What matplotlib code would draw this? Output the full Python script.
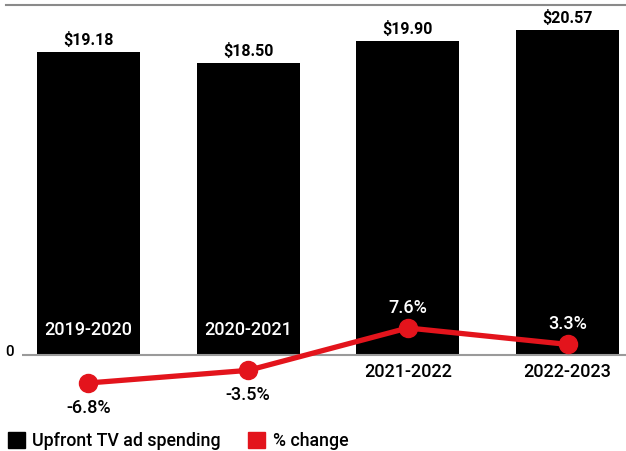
import matplotlib.pyplot as plt
from matplotlib.patches import Patch

# data
seasons = ["2019-2020", "2020-2021", "2021-2022", "2022-2023"]
spending = [19.18, 18.50, 19.90, 20.57]  # billions
pct_change = [-6.8, -3.5, 7.6, 3.3]
bar_labels = ["$19.18", "$18.50", "$19.90", "$20.57"]
pct_labels = ["-6.8%", "-3.5%", "7.6%", "3.3%"]

BLACK = "#000000"
RED = "#e3141c"
GRAY = "#9a9a9a"

plt.rcParams['font.family'] = ['Roboto', 'DejaVu Sans']

W, H = 626, 451
fig = plt.figure(figsize=(W / 100, H / 100), dpi=100)

# axes box in pixels: x 22..626, y 5..400
left, right, top, bottom = 22, 626, 5, 400
ax = fig.add_axes([left / W, 1 - bottom / H, (right - left) / W, (bottom - top) / H])

x = list(range(len(seasons)))
ax.bar(x, spending, width=0.645, color=BLACK, zorder=2)
ax.set_xlim(-0.416, -0.416 + (right - left) / 159.7)
# 0 at y=355 px, 15.8 px per $1B
ax.set_ylim(-(bottom - 355) / 15.8, (355 - top) / 15.8)
ax.axhline(0, color=GRAY, lw=1.5, zorder=3)

for i, v in enumerate(spending):
    ax.text(i, v + 0.25, bar_labels[i], ha="center", va="bottom",
            fontsize=11.5, fontweight="bold", color=BLACK)

# season labels: inside bar if line dips below, under axis otherwise
for i, s in enumerate(seasons):
    if pct_change[i] < 0:
        ax.text(i, 1.6, s, ha="center", va="center", fontsize=13,
                fontweight="medium", color="white", zorder=4)
    else:
        ax.text(i, -1.1, s, ha="center", va="center", fontsize=13,
                fontweight="medium", color=BLACK, zorder=4)

for sp in ax.spines.values():
    sp.set_visible(False)
ax.set_xticks([])
ax.set_yticks([])
ax.text(-0.47, 0.2, "0", ha="right", va="center", fontsize=11,
        fontweight="medium", transform=ax.transData)

# line axis: 0 at y=357 px, 3.82 px per %
ax2 = ax.twinx()
ax2.set_ylim(-(bottom - 357) / 3.82, (357 - top) / 3.82)
ax2.plot(x, pct_change, color=RED, lw=3.8, marker="o", markersize=13,
         zorder=5, solid_capstyle="round")
for i, v in enumerate(pct_change):
    if v < 0:
        ax2.text(i, v - 4.2, pct_labels[i], ha="center", va="top",
                 fontsize=13, fontweight="medium", color=BLACK)
    else:
        ax2.text(i, v + 3.0, pct_labels[i], ha="center", va="bottom",
                 fontsize=13, fontweight="medium", color="white")
ax2.set_axis_off()

# top rule
fig.add_artist(plt.Line2D([6 / W, 1], [1 - 5 / H, 1 - 5 / H],
                          color="#8a8a8a", lw=1.5))

handles = [Patch(color=BLACK, label="Upfront TV ad spending"),
           Patch(color=RED, label="% change")]
fig.legend(handles=handles, loc="lower left", bbox_to_anchor=(-0.005, -0.022),
           ncol=2, frameon=False, handlelength=1.0,
           handleheight=1.0, handletextpad=0.4, columnspacing=1.5,
           borderaxespad=0.2, prop={"weight": "medium", "size": 12.8})

fig.savefig("out.png", dpi=100)
